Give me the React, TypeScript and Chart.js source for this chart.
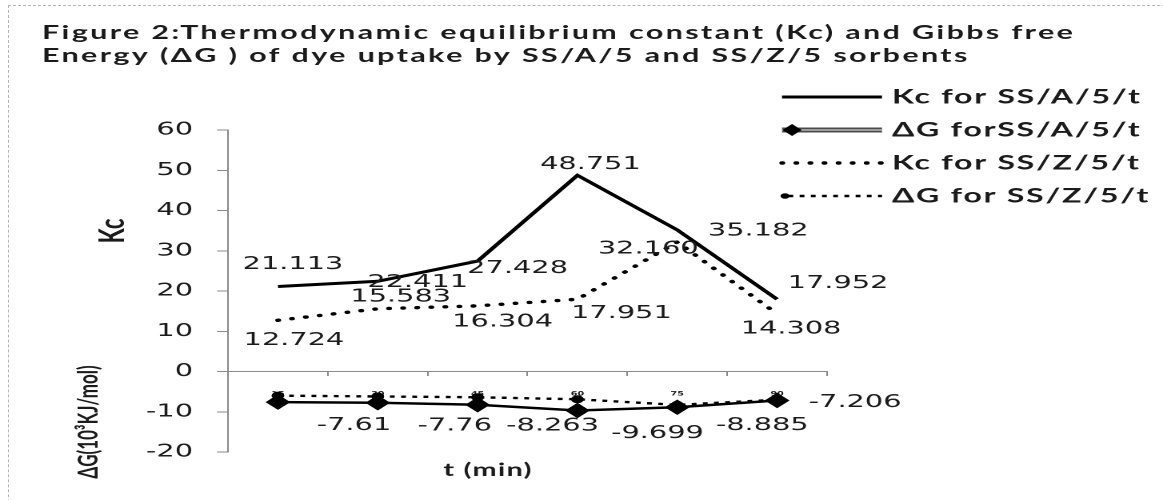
import { useEffect, useRef } from "react";
import { Chart, registerables } from "chart.js";
import type { Plugin } from "chart.js";

Chart.register(...registerables);

// ---- data ----
const times = ["15", "30", "45", "60", "75", "90"];
const kcA = [21.113, 22.411, 27.428, 48.751, 35.182, 17.952];
const dgA = [-7.61, -7.76, -8.263, -9.699, -8.885, -7.206];
const kcZ = [12.724, 15.583, 16.304, 17.951, 32.16, 14.308];
const dgZ = [-6.0, -6.2, -6.4, -6.9, -8.3, -7.0];
const seriesNames = [
  "Kc for SS/A/5/t",
  "ΔG forSS/A/5/t",
  "Kc for SS/Z/5/t",
  "ΔG for SS/Z/5/t",
];
const yMin = -20;
const yMax = 60;
const yStep = 10;

const titleLines = [
  "Figure 2:Thermodynamic equilibrium constant (Kc) and Gibbs free",
  "Energy (ΔG ) of dye uptake by SS/A/5 and SS/Z/5 sorbents",
];

// the original picture is squeezed into a wide box, so the canvas is drawn
// narrow and stretched sideways by css
const PAGE_W = 1163;
const PAGE_H = 500;
const CANVAS_W = 727;
const S = PAGE_W / CANVAS_W;
const rx = (v: number) => v / S;

const TEXT = "#1b1b1b";
const AXIS = "#8a8a8a";
const LABEL_FONT = '18px "DejaVu Sans"';

// label nudges (page px) relative to each point, per labelled series
const NUDGE: Record<number, [number, number][]> = {
  0: [[15, -22], [40, 1], [40, 7], [13, -11], [81, 1], [61, -16]],
  1: [[76, 23], [77, 23], [75, 21], [80, 23], [85, 18], [78, 2]],
  2: [[16, 20], [23, -12], [25, 16], [44, 14], [-29, 7], [14, 15]],
};

const setSpacing = (ctx: CanvasRenderingContext2D, px: number) => {
  (ctx as any).letterSpacing = `${px}px`;
};

const decor: Plugin<"line"> = {
  id: "decor",
  afterDatasetsDraw(chart) {
    const { ctx } = chart;
    ctx.save();

    // data labels
    ctx.font = LABEL_FONT;
    ctx.fillStyle = TEXT;
    ctx.textAlign = "center";
    ctx.textBaseline = "middle";
    [0, 1, 2].forEach((di) => {
      const meta = chart.getDatasetMeta(di);
      const values = chart.data.datasets[di].data as number[];
      meta.data.forEach((pt, i) => {
        const v = values[i];
        const txt = di === 1 ? String(v) : v.toFixed(3);
        const [dx, dy] = NUDGE[di][i];
        ctx.fillText(txt, pt.x + rx(dx), pt.y + dy);
      });
    });

    // title
    ctx.font = "bold 19px Lato";
    ctx.textAlign = "left";
    ctx.textBaseline = "alphabetic";
    setSpacing(ctx, 1.5);
    ctx.fillText(titleLines[0], rx(42), 39);
    ctx.fillText(titleLines[1], rx(42), 62);
    setSpacing(ctx, 0);

    // axis titles
    ctx.textAlign = "center";
    ctx.textBaseline = "middle";
    ctx.save();
    ctx.translate(rx(113), 231);
    ctx.rotate(-Math.PI / 2);
    ctx.font = "bold 22px Lato";
    ctx.fillText("Kc", 0, 0);
    ctx.restore();
    ctx.save();
    ctx.translate(rx(89), 422);
    ctx.rotate(-Math.PI / 2);
    ctx.font = "bold 17px Lato";
    ctx.fillText("ΔG(10³KJ/mol)", 0, 0);
    ctx.restore();
    ctx.font = "bold 18px Lato";
    setSpacing(ctx, 0.8);
    ctx.fillText("t (min)", rx(488), 470);
    setSpacing(ctx, 0);

    // legend
    const rows = [97, 130, 163, 196];
    const x0 = rx(782);
    const x1 = rx(882);
    chart.data.datasets.forEach((ds, i) => {
      const y = rows[i];
      ctx.save();
      ctx.strokeStyle = "#000";
      ctx.fillStyle = "#000";
      if (i === 0) {
        ctx.lineWidth = 3;
        ctx.beginPath();
        ctx.moveTo(x0, y);
        ctx.lineTo(x1, y);
        ctx.stroke();
      } else if (i === 1) {
        ctx.strokeStyle = "#4a4a4a";
        ctx.lineWidth = 5;
        ctx.beginPath();
        ctx.moveTo(x0, y);
        ctx.lineTo(x1, y);
        ctx.stroke();
        ctx.strokeStyle = "#d0d0d0";
        ctx.lineWidth = 1.3;
        ctx.stroke();
        const mx = rx(792);
        ctx.beginPath();
        ctx.moveTo(mx, y - 6);
        ctx.lineTo(mx + 6, y);
        ctx.lineTo(mx, y + 6);
        ctx.lineTo(mx - 6, y);
        ctx.closePath();
        ctx.fill();
      } else if (i === 2) {
        ctx.lineWidth = 3.4;
        ctx.lineCap = "round";
        ctx.setLineDash([0.3, 8.5]);
        ctx.beginPath();
        ctx.moveTo(x0, y);
        ctx.lineTo(x1, y);
        ctx.stroke();
      } else {
        ctx.lineWidth = 2.4;
        ctx.setLineDash([3, 4]);
        ctx.beginPath();
        ctx.moveTo(x0 + 4, y);
        ctx.lineTo(x1, y);
        ctx.stroke();
        ctx.beginPath();
        ctx.arc(rx(785), y, 2.8, 0, Math.PI * 2);
        ctx.fill();
      }
      ctx.restore();
      ctx.font = "bold 20px Lato";
      ctx.textAlign = "left";
      setSpacing(ctx, 1.1);
      ctx.fillText(ds.label as string, rx(892), y);
      setSpacing(ctx, 0);
    });

    ctx.restore();
  },
};

export default function App() {
  const canvasRef = useRef<HTMLCanvasElement>(null);

  useEffect(() => {
    document.body.style.margin = "0";
    if (!canvasRef.current) return;

    const chart = new Chart(canvasRef.current, {
      type: "line",
      data: {
        labels: times,
        datasets: [
          {
            label: seriesNames[0],
            data: kcA,
            borderColor: "#000",
            borderWidth: 3,
            pointRadius: 0,
            order: 4,
          },
          {
            label: seriesNames[1],
            data: dgA,
            borderColor: "#000",
            borderWidth: 2.5,
            pointStyle: "rectRot",
            pointRadius: 6,
            pointBackgroundColor: "#000",
            pointBorderColor: "#000",
            order: 3,
          },
          {
            label: seriesNames[2],
            data: kcZ,
            borderColor: "#000",
            borderWidth: 3.4,
            borderDash: [0.3, 8.5],
            borderCapStyle: "round",
            pointRadius: 0,
            order: 2,
          },
          {
            label: seriesNames[3],
            data: dgZ,
            borderColor: "#000",
            borderWidth: 2.4,
            borderDash: [3, 4],
            pointRadius: 2.8,
            pointBackgroundColor: "#000",
            pointBorderColor: "#000",
            order: 1,
          },
        ],
      },
      options: {
        responsive: false,
        animation: false,
        devicePixelRatio: 2,
        layout: { padding: { top: 130, bottom: PAGE_H - 452, left: 0, right: CANVAS_W - rx(827) } },
        plugins: {
          legend: { display: false },
          tooltip: { enabled: false },
        },
        scales: {
          x: {
            type: "category",
            offset: true,
            position: { y: 0 },
            grid: { offset: true, drawOnChartArea: false, tickLength: 4, color: AXIS },
            border: { color: AXIS },
            ticks: {
              color: TEXT,
              font: { family: "DejaVu Sans", size: 6, weight: "bold" },
              padding: 15,
              maxRotation: 0,
              autoSkip: false,
            },
            afterFit: (scale) => {
              scale.height = 0;
            },
          },
          y: {
            min: yMin,
            max: yMax,
            grid: { drawOnChartArea: false, tickLength: rx(11), color: AXIS },
            border: { color: AXIS },
            ticks: {
              stepSize: yStep,
              color: TEXT,
              padding: rx(24),
              font: { family: "DejaVu Sans", size: 18 },
            },
            afterFit: (scale) => {
              scale.width = rx(228);
            },
          },
        },
      },
      plugins: [decor],
    });

    return () => chart.destroy();
  }, []);

  return (
    <div style={{ position: "relative", width: PAGE_W, height: PAGE_H, overflow: "hidden", background: "#fff" }}>
      <div
        style={{
          position: "absolute",
          left: 8,
          top: 5,
          width: 1300,
          height: 700,
          border: "1px dashed #b5b5b5",
        }}
      />
      <canvas
        ref={canvasRef}
        width={CANVAS_W}
        height={PAGE_H}
        style={{ position: "absolute", left: 0, top: 0, width: PAGE_W, height: PAGE_H }}
      />
    </div>
  );
}
